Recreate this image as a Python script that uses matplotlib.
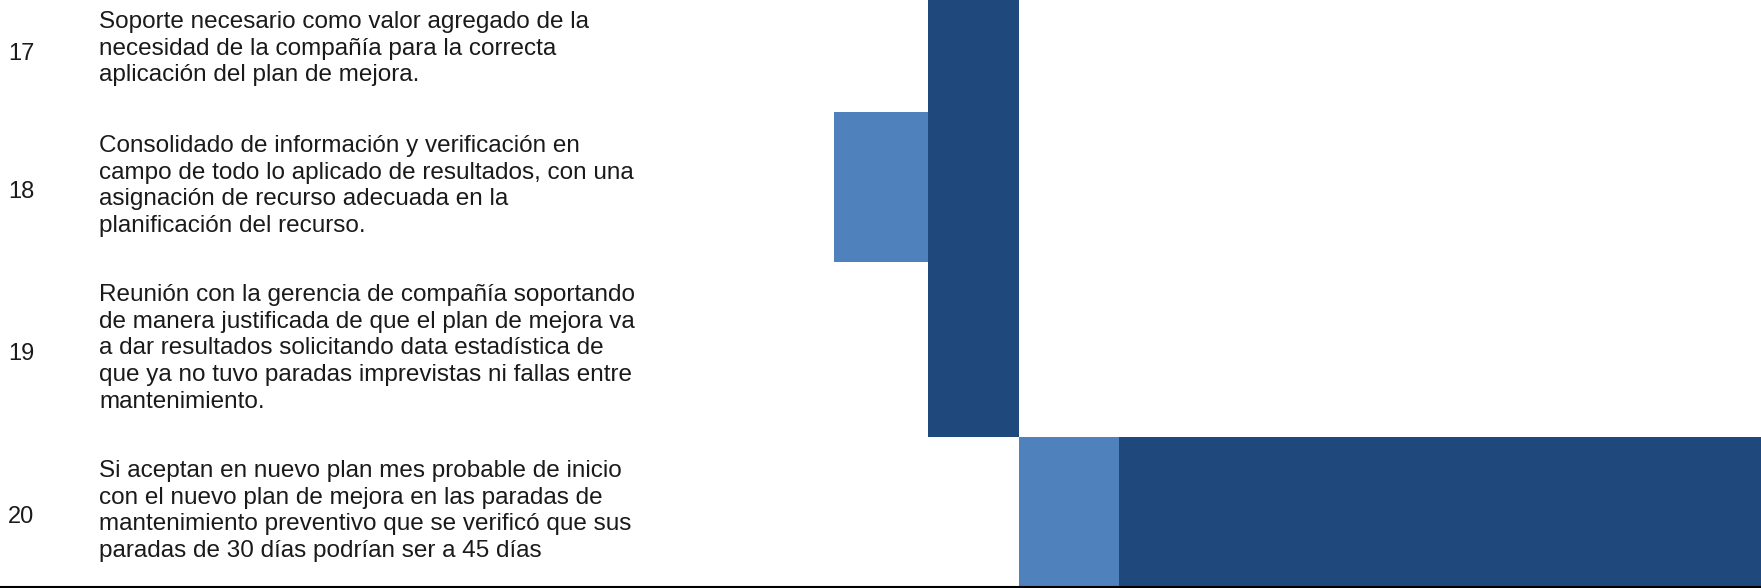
import matplotlib.pyplot as plt
import numpy as np

plt.rcParams['font.family'] = ['Liberation Sans', 'DejaVu Sans']

# Activity rows (number + wrapped description)
task_ids = [17, 18, 19, 20]
task_text = [
    "Soporte necesario como valor agregado de la\n"
    "necesidad de la compañía para la correcta\n"
    "aplicación del plan de mejora.",
    "Consolidado de información y verificación en\n"
    "campo de todo lo aplicado de resultados, con una\n"
    "asignación de recurso adecuada en la\n"
    "planificación del recurso.",
    "Reunión con la gerencia de compañía soportando\n"
    "de manera justificada de que el plan de mejora va\n"
    "a dar resultados solicitando data estadística de\n"
    "que ya no tuvo paradas imprevistas ni fallas entre\n"
    "mantenimiento.",
    "Si aceptan en nuevo plan mes probable de inicio\n"
    "con el nuevo plan de mejora en las paradas de\n"
    "mantenimiento preventivo que se verificó que sus\n"
    "paradas de 30 días podrían ser a 45 días",
]

# Gantt periods (start, duration) per row; None = nothing in that row
planned = [None, (0.0, 0.99), None, (1.95, 1.05)]
executed = [(0.99, 0.96), (0.99, 0.96), (0.99, 0.96), (3.0, 7.0)]

LIGHT = '#4F81BD'
DARK = '#1F497D'
TEXT = '#1a1a1a'

# row height follows the number of text lines
n_lines = np.array([t.count('\n') + 1 for t in task_text])
heights = n_lines + 2
tops = np.concatenate([[0], np.cumsum(heights)[:-1]])
centers = tops + heights / 2

fig = plt.figure(figsize=(17.61, 5.88), dpi=100)
ax = fig.add_axes([0, 1.5 / 588, 1, 1 - 1.5 / 588])

for i in range(len(task_ids)):
    if planned[i] is not None:
        ax.barh(tops[i], planned[i][1], left=planned[i][0], height=heights[i],
                align='edge', color=LIGHT, linewidth=0)
    if executed[i] is not None:
        ax.barh(tops[i], executed[i][1], left=executed[i][0], height=heights[i],
                align='edge', color=DARK, linewidth=0)

trans = ax.get_yaxis_transform()
for i, (num, txt) in enumerate(zip(task_ids, task_text)):
    ax.text(0.0122, centers[i] + 0.22, str(num), transform=trans,
            ha='center', va='center', fontsize=17, color=TEXT)
    ax.text(0.0562, centers[i] - 0.02, txt, transform=trans,
            ha='left', va='center', fontsize=17.5, color=TEXT,
            linespacing=1.27)

# one period = 95 px, period 0 starts at x = 834 px
ax.set_xlim(-834 / 95, (1761 - 834) / 95)
ax.set_ylim(tops[-1] + heights[-1], tops[-1] + heights[-1] - 586.5 / 25)

for side in ['top', 'left', 'right']:
    ax.spines[side].set_visible(False)
ax.spines['bottom'].set_linewidth(1.5)
ax.set_xticks([])
ax.set_yticks([])

fig.savefig('out.png', dpi=100)
